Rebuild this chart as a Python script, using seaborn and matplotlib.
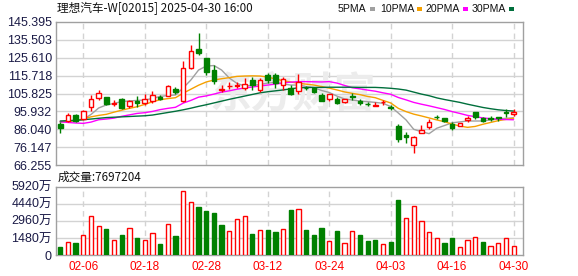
import numpy as np
import pandas as pd
import matplotlib
matplotlib.use("Agg")
import matplotlib.pyplot as plt
from matplotlib.patches import Rectangle
import seaborn as sns

# ---------------- data ----------------
dates = ["02-03", "02-04", "02-05", "02-06", "02-07", "02-10", "02-11", "02-12", "02-13", "02-14",
         "02-17", "02-18", "02-19", "02-20", "02-21", "02-24", "02-25", "02-26", "02-27", "02-28",
         "03-03", "03-04", "03-05", "03-06", "03-07", "03-10", "03-11", "03-12", "03-13", "03-14",
         "03-17", "03-18", "03-19", "03-20", "03-21", "03-24", "03-25", "03-26", "03-27", "03-28",
         "03-31", "04-01", "04-02", "04-03", "04-07", "04-08", "04-09", "04-10", "04-11", "04-14",
         "04-15", "04-16", "04-17", "04-22", "04-23", "04-24", "04-25", "04-28", "04-29", "04-30"]

opens = [88.95, 90.8, 93.8, 91.55, 98.2, 103.3, 103.7, 100.0, 102.6, 98.9,
         101.7, 100.7, 101.5, 104.1, 104.4, 108.3, 101.5, 119.8, 130.3, 125.3,
         119.0, 107.9, 109.8, 109.9, 109.0, 113.3, 107.8, 116.1, 116.1, 110.5,
         108.7, 107.2, 109.0, 108.7, 105.0, 102.95, 102.6, 101.3, 104.4, 101.8,
         100.2, 99.1, 100.95, 98.2, 87.8, 82.9, 77.2, 84.1, 87.5, 92.8,
         92.3, 88.95, 88.0, 91.2, 95.4, 92.3, 92.3, 92.7, 95.4, 94.5]
highs = [90.2, 94.9, 94.3, 96.7, 104.8, 107.8, 104.0, 102.2, 103.3, 102.2,
         104.4, 105.5, 107.4, 105.2, 110.3, 109.6, 124.0, 132.8, 139.5, 125.6,
         121.6, 110.5, 112.4, 112.0, 114.2, 115.1, 114.6, 117.3, 117.0, 114.8,
         110.5, 116.6, 110.0, 109.6, 105.9, 105.5, 103.7, 102.9, 105.9, 102.95,
         101.0, 101.3, 102.2, 99.3, 88.95, 84.4, 82.3, 88.2, 91.55, 93.9,
         92.5, 89.9, 89.4, 93.5, 95.8, 93.0, 93.4, 93.0, 97.4, 97.1]
lows = [84.1, 90.2, 89.9, 91.2, 96.3, 102.2, 99.5, 98.9, 97.4, 97.8,
        98.2, 99.6, 100.4, 102.2, 104.2, 105.5, 101.3, 119.6, 127.3, 116.1,
        110.9, 106.5, 108.2, 108.7, 107.8, 107.8, 106.8, 111.8, 108.7, 107.8,
        105.0, 105.5, 107.8, 106.3, 101.7, 101.7, 100.0, 100.7, 102.2, 99.6,
        98.9, 98.9, 99.3, 96.7, 79.2, 78.6, 73.1, 83.8, 86.3, 91.55,
        90.2, 85.6, 87.9, 90.2, 91.9, 90.1, 90.4, 90.4, 93.0, 93.4]
closes = [86.7, 94.1, 90.8, 96.0, 102.95, 105.9, 100.0, 100.6, 97.8, 101.5,
          100.4, 102.8, 104.8, 102.6, 110.0, 106.7, 119.8, 129.2, 128.1, 117.9,
          112.7, 108.3, 110.1, 110.4, 110.9, 110.5, 113.5, 113.3, 111.5, 113.7,
          105.5, 112.4, 108.7, 106.8, 101.8, 105.5, 100.4, 102.8, 103.7, 100.4,
          100.0, 99.3, 101.1, 97.8, 80.5, 81.6, 81.8, 85.6, 90.1, 92.7,
          90.8, 86.7, 89.3, 92.4, 93.0, 90.8, 91.9, 92.4, 95.2, 95.8]

# volume in 万 (10k shares)
volume = [667, 1127, 1040, 1707, 3354, 2487, 2254, 1274, 1733, 2314,
          1473, 1274, 1880, 953, 2660, 1647, 5521, 4568, 4134, 3787,
          3640, 2600, 2054, 3094, 3354, 1820, 2167, 2167, 1993, 2227,
          3900, 3961, 2167, 1733, 2340, 1213, 2080, 1014, 2080, 1733,
          1213, 1300, 928, 1127, 4767, 3180, 4247, 2947, 1993, 1447,
          1040, 1473, 667, 1300, 1534, 1127, 754, 1014, 1447, 769.7204]

ma5 = [90.0, 90.5, 90.6, 91.5, 94.2, 97.8, 99.5, 100.3, 101.4, 101.7,
       102.0, 102.2, 103.1, 104.2, 104.7, 105.0, 108.9, 113.3, 118.8, 121.0,
       121.3, 118.8, 114.4, 111.4, 110.0, 110.3, 110.8, 111.6, 111.9, 111.1,
       110.5, 110.5, 109.7, 109.1, 107.5, 106.4, 104.4, 102.8, 102.2, 101.7,
       101.3, 100.9, 100.4, 98.6, 95.0, 91.2, 86.0, 84.7, 83.6, 86.6,
       88.1, 89.6, 90.1, 90.6, 90.6, 90.6, 91.2, 91.7, 92.1, 92.4]
ma10 = [90.3, 90.5, 90.8, 91.8, 92.9, 93.7, 94.3, 95.5, 96.6, 97.6,
        98.5, 99.8, 101.2, 102.4, 103.0, 103.5, 106.0, 108.2, 110.4, 112.2,
        113.3, 114.0, 114.6, 115.3, 115.5, 115.6, 115.5, 114.9, 113.9, 112.9,
        112.2, 111.5, 111.0, 110.5, 109.7, 108.8, 107.8, 106.7, 105.9, 105.2,
        104.2, 103.5, 102.0, 100.6, 97.6, 95.8, 94.4, 93.4, 92.3, 91.2,
        90.2, 88.9, 87.8, 87.1, 87.6, 88.8, 89.8, 90.8, 91.5, 92.1]
ma20 = [90.2, 89.8, 89.5, 89.3, 90.0, 91.3, 91.7, 92.2, 93.2, 94.0,
        94.8, 95.2, 95.9, 96.9, 97.6, 98.2, 100.5, 102.0, 103.8, 104.5,
        105.5, 106.6, 107.3, 108.2, 108.9, 109.4, 110.0, 110.5, 111.0, 111.7,
        112.1, 112.4, 112.4, 112.3, 112.2, 112.4, 111.6, 110.3, 109.0, 108.4,
        107.7, 107.1, 106.2, 105.4, 103.6, 102.3, 100.9, 99.9, 99.0, 98.0,
        97.0, 95.8, 94.8, 93.7, 93.0, 92.3, 91.9, 91.6, 91.4, 91.3]
ma30 = [90.6, 90.8, 91.0, 91.3, 91.7, 92.1, 92.5, 92.7, 92.9, 93.1,
        93.3, 93.5, 93.9, 94.6, 95.3, 96.0, 96.8, 97.7, 98.7, 99.6,
        100.6, 101.6, 102.6, 103.5, 104.4, 105.3, 106.2, 106.8, 107.3, 107.8,
        108.4, 109.0, 109.1, 109.2, 109.2, 109.3, 109.3, 109.3, 109.3, 109.2,
        109.2, 109.2, 109.0, 108.7, 108.3, 107.7, 106.6, 105.5, 104.6, 103.4,
        102.5, 101.7, 100.9, 99.9, 99.0, 98.1, 97.4, 96.8, 96.4, 96.1]

tick_dates = ["02-06", "02-18", "02-28", "03-12", "03-24", "04-03", "04-16", "04-30"]
price_ticks = ["66.255", "76.147", "86.040", "95.932", "105.825", "115.718", "125.610", "135.503", "145.395"]
vol_ticks = [0, 1480, 2960, 4440, 5920]
vol_tick_labels = ["0", "1480万", "2960万", "4440万", "5920万"]
ma_names = ["5PMA", "10PMA", "20PMA", "30PMA"]
title = "理想汽车-W[02015] 2025-04-30 16:00"
vol_title = "成交量:7697204"
watermark = "东方财富"

# ---------------- style ----------------
RED = "#ff0000"
GREEN = "#008000"
GRID = "#d3d3d3"
FRAME = "#a0a0a0"
LABEL = "#1a1a46"
ma_colors = ["#a0a0a0", "#f5a000", "#ff00ff", "#006f3c"]

sns.set_theme(style="white")
plt.rcParams["font.family"] = ["Liberation Sans", "Noto Sans CJK SC", "DejaVu Sans"]
CJK = ["Noto Sans CJK SC", "DejaVu Sans"]

df = pd.DataFrame({"idx": np.arange(len(dates)), "date": dates, "open": opens, "high": highs,
                   "low": lows, "close": closes, "vol": volume,
                   "ma5": ma5, "ma10": ma10, "ma20": ma20, "ma30": ma30})

W, H = 578, 276
fig = plt.figure(figsize=(W / 100, H / 100), dpi=100)
fig.patch.set_facecolor("white")
L, R = 56, 522.7
ax = fig.add_axes([L / W, 1 - 165 / H, (R - L) / W, (165 - 22) / H])
axv = fig.add_axes([L / W, 1 - 255 / H, (R - L) / W, (255 - 186.7) / H])

xlim = (-0.55, 60.18)
tick_idx = [dates.index(d) for d in tick_dates]

for a in (ax, axv):
    a.set_facecolor("white")
    a.set_xlim(*xlim)
    for s in a.spines.values():
        s.set_color(FRAME)
        s.set_linewidth(1)
    a.tick_params(length=0, pad=3)
    for t in tick_idx:
        a.axvline(t, color=GRID, lw=1, ls=(0, (4, 3)), zorder=1)

# price panel
pvals = [float(v) for v in price_ticks]
ax.set_ylim(pvals[0], pvals[-1])
ax.set_yticks(pvals)
ax.set_yticklabels(price_ticks, fontsize=9, color=LABEL)
ax.set_xticks([])
for v in pvals[1:-1]:
    ax.axhline(v, color=GRID, lw=1, zorder=1)

ax.text(30.3, 105.3, watermark, fontsize=30, color="#ececec", ha="center", va="center",
        family=CJK, fontweight="bold", zorder=1.5)

for name, col in zip(["ma5", "ma10", "ma20", "ma30"], ma_colors):
    sns.lineplot(data=df, x="idx", y=name, ax=ax, color=col, lw=1, zorder=2, legend=False)
ax.set_xlabel("")
ax.set_ylabel("")

bw = 0.6
for _, r in df.iterrows():
    up = r["close"] > r["open"]
    col = RED if up else GREEN
    lo, hi = min(r["open"], r["close"]), max(r["open"], r["close"])
    ax.vlines(r["idx"], r["low"], r["high"], color=col, lw=1, zorder=3)
    ax.bar(r["idx"], max(hi - lo, 0.15), bottom=lo, width=bw,
           facecolor="white" if up else GREEN, edgecolor=col, lw=1, zorder=4)

# volume panel
axv.set_ylim(0, 5920)
axv.set_yticks(vol_ticks)
axv.set_yticklabels(vol_tick_labels, fontsize=9, color=LABEL, family=["Liberation Sans", "Noto Sans CJK SC"])
for v in vol_ticks[1:-1]:
    axv.axhline(v, color=GRID, lw=1, zorder=1)
prev = [df["open"].iloc[0]] + list(df["close"].iloc[:-1])
for i, r in df.iterrows():
    up = r["close"] > prev[i]
    col = RED if up else GREEN
    axv.bar(r["idx"], r["vol"], width=0.55, facecolor="white" if up else GREEN,
            edgecolor=col, lw=1, zorder=3)
axv.set_xticks(tick_idx)
axv.set_xticklabels(tick_dates, fontsize=8.5, color=RED)
axv.tick_params(axis="x", pad=4)

# texts
fig.text(57 / W, 1 - 8.5 / H, title, fontsize=8.4, family=CJK, color="#111111", va="center", ha="left")
fig.text(57.5 / W, 1 - 177.5 / H, vol_title, fontsize=8.4, family=CJK, color="#111111", va="center", ha="left")

renderer = fig.canvas.get_renderer()
leg_x = [338, 380, 426, 472]
for name, col, x0 in zip(ma_names, ma_colors, leg_x):
    t = fig.text(x0 / W, 1 - 8.5 / H, name, fontsize=7.6, family=["Liberation Sans"],
                 color="#111111", va="center", ha="left")
    ext = t.get_window_extent(renderer)
    fig.patches.append(Rectangle(((ext.x1 + 3) / W, 1 - 10.5 / H), 5 / W, 3.5 / H,
                                 transform=fig.transFigure, facecolor=col, edgecolor="none"))

fig.savefig("out.png", dpi=100, facecolor="white")
